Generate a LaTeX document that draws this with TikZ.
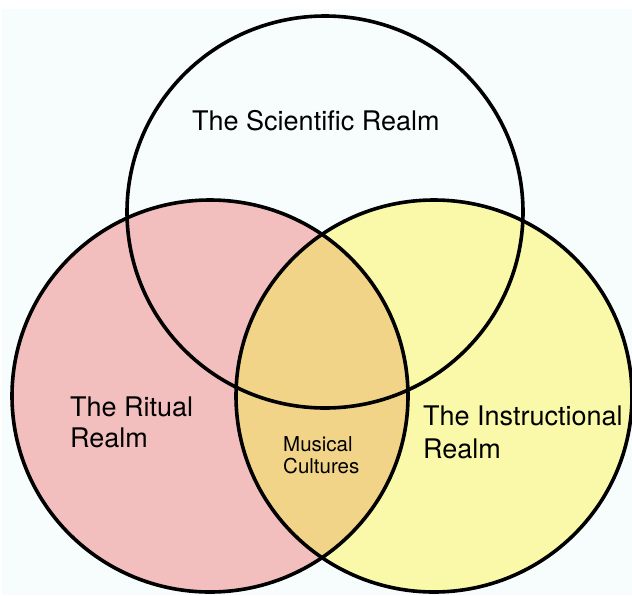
\documentclass[tikz,border=0pt]{standalone}
\usepackage{fontspec}
\setmainfont{TeX Gyre Heros}
\definecolor{bgc}{HTML}{F7FDFD}
\definecolor{pinkc}{HTML}{F2BFBE}
\definecolor{yellowc}{HTML}{F9F9A9}
\definecolor{overc}{HTML}{F2D488}
\begin{document}
\begin{tikzpicture}[x=1pt,y=-1pt,
  ring/.style={line width=3.6pt, draw=black},
  biglabel/.style={font=\fontsize{27}{31}\selectfont, align=left, anchor=base west, inner sep=0pt},
  smalllabel/.style={font=\fontsize{20.5}{22}\selectfont, align=left, anchor=base west, inner sep=0pt}]
\useasboundingbox (0,0) rectangle (632,595);
\fill[white] (0,0) rectangle (632,595);
\fill[bgc] (2,9) rectangle (632,595);
% fills
\fill[pinkc] (210,396) ellipse [x radius=198, y radius=196];
\fill[yellowc] (434,396) ellipse [x radius=198, y radius=196];
\begin{scope}
  \clip (210,396) ellipse [x radius=198, y radius=196];
  \fill[overc] (434,396) ellipse [x radius=198, y radius=196];
\end{scope}
% outlines
\draw[ring] (325,212) ellipse [x radius=198, y radius=196];
\draw[ring] (210,396) ellipse [x radius=198, y radius=196];
\draw[ring] (434,396) ellipse [x radius=198, y radius=196];
% labels
\node[biglabel] (sci) at (192,130) {The Scientific Realm};
\node[biglabel] (rit) at (70,447) {The Ritual\\Realm};
\node[biglabel, font=\fontsize{27}{33}\selectfont] (ins) at (423,458) {The Instructional\\Realm};
\node[smalllabel] (mus) at (283,473) {Musical\\Cultures};
\end{tikzpicture}
\end{document}
